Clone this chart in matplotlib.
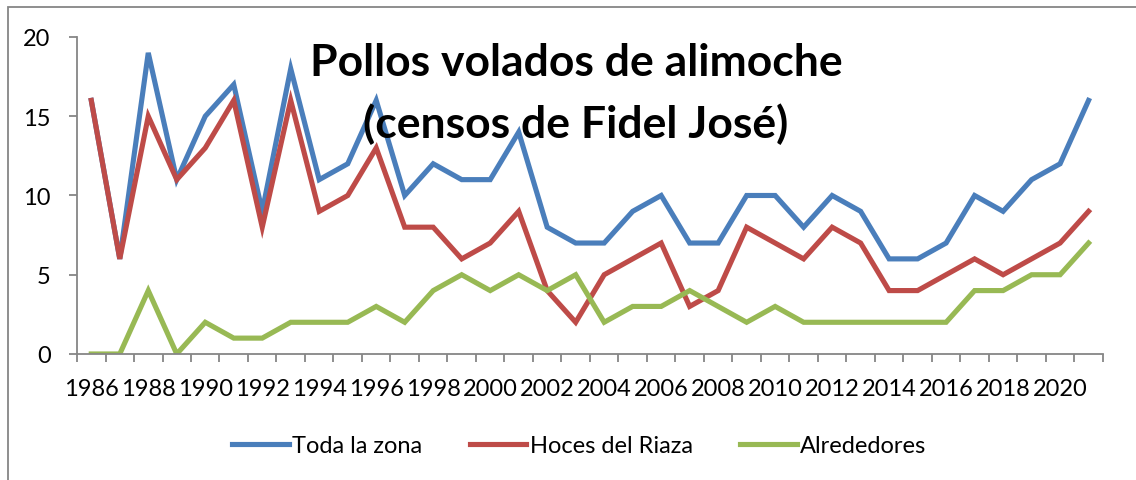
import numpy as np
import matplotlib
matplotlib.use("Agg")
import matplotlib.pyplot as plt
from matplotlib.patches import Rectangle

# datos de los censos (pollos volados por año)
years = list(range(1986, 2022))
toda_zona = [16, 6, 19, 11, 15, 17, 9, 18, 11, 12, 16, 10, 12, 11, 11, 14, 8, 7,
             7, 9, 10, 7, 7, 10, 10, 8, 10, 9, 6, 6, 7, 10, 9, 11, 12, 16]
hoces_riaza = [16, 6, 15, 11, 13, 16, 8, 16, 9, 10, 13, 8, 8, 6, 7, 9, 4, 2,
               5, 6, 7, 3, 4, 8, 7, 6, 8, 7, 4, 4, 5, 6, 5, 6, 7, 9]
alrededores = [0, 0, 4, 0, 2, 1, 1, 2, 2, 2, 3, 2, 4, 5, 4, 5, 4, 5,
               2, 3, 3, 4, 3, 2, 3, 2, 2, 2, 2, 2, 2, 4, 4, 5, 5, 7]
series_names = ["Toda la zona", "Hoces del Riaza", "Alrededores"]
y_ticks = [0, 5, 10, 15, 20]

plt.rcParams['font.family'] = ['Lato', 'DejaVu Sans']
gray = '#868686'

fig = plt.figure(figsize=(11.36, 4.81), dpi=100)
ax = fig.add_axes([0.0678, 0.262, 0.903, 0.659])

x = np.arange(len(years))
colors = ['#4A7EBB', '#BE4B48', '#98B954']
for vals, name, c in zip([toda_zona, hoces_riaza, alrededores], series_names, colors):
    ax.plot(x, vals, color=c, lw=3.7, label=name, solid_joinstyle='miter')

ax.set_xlim(-0.5, len(years) - 0.5)
ax.set_ylim(0, 20)
ax.set_yticks(y_ticks)
ax.set_xticks(x[::2])
ax.set_xticklabels([str(y) for y in years[::2]])
ax.set_xticks(np.arange(-0.5, len(years)), minor=True)
ax.tick_params(axis='x', which='major', length=0, pad=17, labelsize=17)
ax.tick_params(axis='x', which='minor', length=6, color=gray, width=1.3, direction='out')
ax.tick_params(axis='y', length=6, color=gray, width=1.3, pad=13, labelsize=17)

for s in ['top', 'right']:
    ax.spines[s].set_visible(False)
for s in ['left', 'bottom']:
    ax.spines[s].set_color(gray)
    ax.spines[s].set_linewidth(1.3)

fig.text(0.507, 0.805, "Pollos volados de alimoche\n(censos de Fidel José)",
         ha='center', va='center', fontsize=32, fontweight='bold', linespacing=1.6)

fig.legend(loc='center', bbox_to_anchor=(0.51, 0.072), ncol=3, frameon=False,
           fontsize=17, handlelength=2.4, handletextpad=0.15, columnspacing=2.0)

# marco del gráfico
fig.patches.append(Rectangle((8 / 1136, -0.1), 1.2, 1 - 8 / 481 + 0.1,
                             transform=fig.transFigure, fill=False,
                             edgecolor=gray, lw=1.3))

fig.savefig('out.png', dpi=100)
